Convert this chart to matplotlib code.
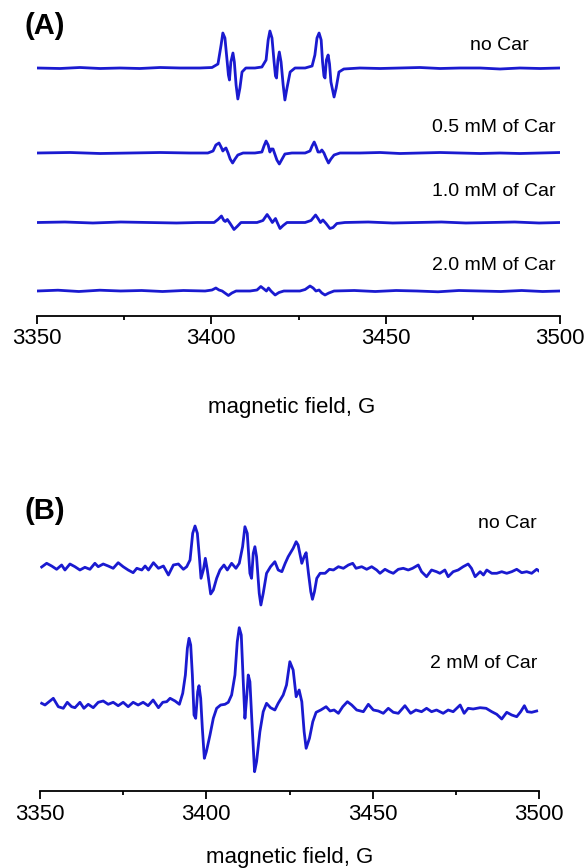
import matplotlib
matplotlib.use("Agg")
import matplotlib.pyplot as plt
from matplotlib.ticker import MultipleLocator

plt.rcParams['font.family'] = ['Liberation Sans', 'DejaVu Sans']

# ---------------- data (field in G, signal in arbitrary units) ----------------
xtick_labels = ["3350", "3400", "3450", "3500"]

labels_A = ["no Car", "0.5 mM of Car", "1.0 mM of Car", "2.0 mM of Car"]
labels_B = ["no Car", "2 mM of Car"]

A1_field = [3350.0, 3356.6, 3362.3, 3368.1, 3373.8, 3379.5, 3385.3, 3391.0, 3396.7, 3400.2,
            3401.9, 3402.8, 3403.3, 3403.9, 3404.5, 3404.9, 3405.2, 3405.6, 3406.2, 3406.6,
            3407.1, 3407.6, 3408.2, 3408.8, 3409.9, 3412.5, 3414.5, 3415.7, 3416.3, 3416.8,
            3417.4, 3418.0, 3418.4, 3418.7, 3419.1, 3419.5, 3420.0, 3420.6, 3421.1, 3421.7,
            3422.6, 3424.0, 3426.9, 3428.9, 3429.7, 3430.3, 3430.9, 3431.5, 3431.9, 3432.3,
            3432.6, 3433.0, 3433.5, 3433.9, 3434.3, 3435.2, 3435.8, 3436.6, 3438.0, 3442.6,
            3448.4, 3454.1, 3459.8, 3465.6, 3471.3, 3477.1, 3482.8, 3488.5, 3494.3, 3500.0]
A1_signal = [0, -0.5, 0.5, -0.5, 0, -0.5, 0.5, 0, 0, 0.5,
             4, 23, 35, 30, 8, -7, -12, 6, 15, 6,
             -17, -31, -20, -4, 0, 0, 1, 8, 28, 37,
             30, 6, -8, -10, 8, 16, 6, -17, -32, -20,
             -4, 0, 0, 2, 13, 30, 35, 28, 6, -8,
             -10, 8, 13, 4, -14, -29, -20, -4, -1, 0,
             -0.5, 0, 0.5, -0.5, 0, 0, -1, 0, -0.5, 0]

A2_field = [3350.0, 3359.5, 3368.1, 3376.7, 3385.3, 3393.9, 3399.0, 3400.5, 3401.3, 3402.2,
            3402.8, 3403.3, 3403.8, 3404.2, 3404.8, 3405.4, 3406.1, 3406.8, 3407.6, 3409.1,
            3412.5, 3414.5, 3415.1, 3415.7, 3416.3, 3416.8, 3417.2, 3417.7, 3418.3, 3418.8,
            3419.5, 3420.3, 3421.1, 3423.1, 3426.9, 3428.3, 3428.9, 3429.5, 3430.0, 3430.6,
            3431.2, 3431.7, 3432.3, 3432.9, 3433.6, 3434.3, 3435.2, 3436.9, 3442.6, 3448.4,
            3454.1, 3459.8, 3465.6, 3471.3, 3477.1, 3482.8, 3488.5, 3494.3, 3500.0]
A2_signal = [0, 0.5, -0.5, 0, 0.5, 0, 0, 2, 8, 10,
             6, 2, 4, 5, 0, -6, -10, -6, -2, 0,
             0, 1, 7, 12, 8, 1, 4, 4, -2, -7,
             -11, -6, -1, 0, 0, 2, 7, 11, 7, 1,
             1, 3, 0, -5, -10, -6, -2, 0, 0, 0.5,
             -0.5, 0, 0.5, 0, -0.5, 0, -0.5, 0, 0.5]

A3_field = [3350.0, 3358.0, 3366.0, 3374.0, 3382.0, 3390.0, 3396.0, 3400.8, 3401.9, 3402.9,
            3403.6, 3404.0, 3404.6, 3405.4, 3406.5, 3407.4, 3408.5, 3413.1, 3414.8, 3416.0,
            3416.8, 3417.5, 3418.4, 3418.9, 3419.7, 3420.6, 3421.7, 3426.9, 3428.6, 3429.9,
            3430.6, 3431.3, 3432.0, 3432.9, 3434.0, 3434.9, 3436.0, 3438.3, 3445.0, 3452.0,
            3459.0, 3466.0, 3473.0, 3480.0, 3487.0, 3494.0, 3500.0]
A3_signal = [0, 0.5, -0.5, 0.5, 0, -0.5, 0, 0, 3, 6.5,
             2, 1, 3, -1, -7, -4, 0, 0, 2, 8,
             4, 0, 4, 0, -6, -3, 0, 0, 2, 7.5,
             4, 0, 2.5, -1, -6, -5, -1, 0, 0.5, -0.5,
             0, 0.5, -0.5, 0, 0.5, -0.5, 0]

A4_field = [3350.0, 3356.0, 3362.0, 3368.0, 3374.0, 3380.0, 3386.0, 3392.0, 3398.2, 3400.2,
            3401.3, 3402.2, 3403.1, 3403.9, 3404.9, 3405.9, 3407.1, 3411.1, 3413.1, 3414.2,
            3415.1, 3415.8, 3416.4, 3417.1, 3418.3, 3419.4, 3420.8, 3425.4, 3426.9, 3428.3,
            3429.2, 3430.0, 3430.9, 3431.7, 3432.6, 3433.7, 3435.2, 3441.0, 3447.0, 3453.0,
            3459.0, 3465.0, 3471.0, 3477.0, 3483.0, 3489.0, 3495.0, 3500.0]
A4_signal = [0, 0.8, -0.5, 0.8, 0, 0.5, -0.5, 0.5, 0, 1,
             3, 1, 0, -2, -4.5, -2, 0, 0, 1, 4.5,
             2, 0, 3, 0, -4, -1.5, 0, 0, 1.5, 5,
             3, 0, 1, -2, -4, -2, 0, 0.5, -0.5, 0.5,
             0, -0.8, 0.5, 0, -0.5, 0.5, -0.5, 0]

B1_field = [3350.5, 3352.0, 3353.5, 3355.0, 3356.5, 3357.5, 3359.0, 3360.5, 3362.0, 3363.5,
            3365.0, 3366.5, 3367.5, 3369.0, 3370.5, 3372.0, 3373.5, 3375.0, 3376.5, 3378.0,
            3379.1, 3380.6, 3381.6, 3382.6, 3384.1, 3385.6, 3387.1, 3388.6, 3390.1, 3391.6,
            3393.1, 3394.1, 3395.1, 3395.9, 3396.6, 3397.3, 3397.9, 3398.4, 3399.1, 3399.7,
            3400.3, 3401.3, 3402.1, 3403.1, 3404.1, 3405.3, 3406.3, 3407.6, 3408.9, 3409.9,
            3410.9, 3411.6, 3412.3, 3413.1, 3413.6, 3414.1, 3414.6, 3415.1, 3415.9, 3416.4,
            3417.1, 3418.1, 3419.3, 3420.6, 3421.6, 3422.7, 3423.7, 3424.6, 3426.1, 3427.0,
            3427.6, 3428.7, 3429.4, 3430.0, 3430.7, 3431.4, 3431.9, 3432.5, 3433.2, 3434.2,
            3435.7, 3437.0, 3438.2, 3439.7, 3441.2, 3442.7, 3444.0, 3445.0, 3446.7, 3448.2,
            3449.7, 3451.2, 3452.2, 3453.7, 3455.0, 3456.2, 3457.7, 3459.2, 3460.7, 3462.0,
            3463.7, 3464.7, 3466.2, 3467.7, 3469.2, 3470.2, 3471.7, 3472.7, 3474.2, 3475.7,
            3477.2, 3478.7, 3479.7, 3480.8, 3482.3, 3483.3, 3484.3, 3485.8, 3487.3, 3488.8,
            3490.3, 3491.8, 3493.3, 3494.8, 3496.3, 3497.8, 3499.3, 3500.0]
B1_signal = [1, 4.7, 2, -1.3, 3, -2, 4, 1.3, -2, 0.7,
             -1.3, 4.7, 1.3, 4, 2, -0.3, 5.3, 1.3, -2, -4.7,
             -0.3, -2, 2, -2, 5.3, -0.3, 2, -7, 3, 4,
             -1.3, 1.3, 8, 34.7, 42, 34.7, 11.3, -10.3, -2, 9.7,
             -2, -26, -22, -10.3, -2, 3, -2, 4.7, -0.3, 4.7,
             21.3, 41.3, 34.7, -5.3, -10.3, 14.7, 21.3, 11.3, -25.3, -37,
             -25.3, -5.3, 1.3, 6.3, -2, -3.7, 4.7, 11.3, 19.7, 26.3,
             23, 4.7, 11.3, 15.3, -5.3, -23.7, -31.3, -23.7, -10.3, -5.3,
             -5.3, -1.3, -2, 1.3, -0.3, 3, 4.7, -0.3, 1.3, -1.3,
             1.3, -2, -5.3, -1.3, -3.7, -5.3, -1.3, -0.3, -2, -0.3,
             3, -3.7, -8.7, -2, -3.7, -5.3, -2, -8.7, -3.7, -2,
             1.3, 4, -0.3, -8.7, -3.7, -7, -2, -5.3, -5.3, -3.7,
             -5.3, -3.7, -1.3, -4.7, -3.7, -5.3, -1.3, -3]

B2_field = [3350.5, 3351.5, 3352.5, 3354.0, 3355.5, 3357.0, 3358.2, 3359.5, 3360.5, 3362.0,
            3363.2, 3364.5, 3366.0, 3367.5, 3369.0, 3370.5, 3372.0, 3373.5, 3375.0, 3376.5,
            3378.0, 3379.5, 3381.0, 3382.5, 3384.0, 3385.6, 3386.9, 3388.1, 3389.1, 3390.6,
            3391.9, 3392.9, 3393.7, 3394.3, 3394.8, 3395.3, 3395.8, 3396.3, 3396.8, 3397.4,
            3397.8, 3398.3, 3398.8, 3399.4, 3400.0, 3401.1, 3402.1, 3403.1, 3404.3, 3405.6,
            3406.6, 3407.6, 3408.6, 3409.3, 3409.9, 3410.5, 3411.1, 3411.6, 3412.1, 3412.6,
            3413.1, 3413.7, 3414.5, 3415.1, 3416.1, 3417.1, 3418.1, 3419.3, 3420.6, 3421.6,
            3423.1, 3424.1, 3425.1, 3426.1, 3427.0, 3427.9, 3428.7, 3429.4, 3430.0, 3431.0,
            3432.0, 3433.0, 3434.4, 3436.0, 3437.2, 3438.4, 3439.7, 3441.0, 3442.4, 3443.7,
            3445.2, 3447.2, 3448.7, 3450.2, 3451.7, 3453.2, 3454.7, 3456.2, 3457.7, 3459.7,
            3461.4, 3463.0, 3464.7, 3466.2, 3467.7, 3469.2, 3471.2, 3472.7, 3474.2, 3476.3,
            3477.5, 3478.7, 3480.2, 3482.3, 3484.1, 3485.8, 3487.3, 3488.8, 3490.3, 3491.8,
            3493.3, 3494.5, 3495.6, 3496.5, 3497.8, 3499.3]
B2_signal = [0.7, -1, 1.7, 5.7, -2.7, -4.3, 1.7, -2.7, -3.7, 1.7,
             -4.3, -0.3, -3.7, 1.7, 3, -0.3, 1.7, -1.7, 1.7, -2.7,
             1.7, -1, 1.7, -1.7, 4, -3.7, 1.7, 2.3, 5.7, 3,
             -0.3, 10.7, 29, 55.7, 65.7, 59, 29, -11, -14.3, 12.3,
             18.3, 5.7, -24.3, -54.3, -47.7, -31, -14.3, -4.3, -1, -0.3,
             1.7, 9, 29, 62.3, 76.3, 69, 22.3, -14.3, 5.7, 29,
             22.3, -17.7, -67.7, -57.7, -27.7, -7.7, 0.7, -3.7, -6, 0.7,
             9, 19, 42.3, 34, 7.3, 14, 2.3, -27.7, -44.3, -34.3,
             -17.7, -8.3, -6, -2.7, -7, -6, -9.3, -2.7, 2.3, -1,
             -6, -7.7, -0.3, -6, -7, -9.3, -4.3, -8.3, -9.3, -1.7,
             -9.3, -6, -7.7, -4.3, -7.7, -6, -9.3, -6, -7.7, -1,
             -9.3, -4.3, -5, -3.7, -4.3, -7.7, -10.3, -15, -8.3, -11,
             -12.7, -7.7, -1.7, -7.7, -8.3, -7]

# ---------------- layout (pixels of a 585 x 868 canvas) ----------------
W, H = 585, 868
fig = plt.figure(figsize=(W / 100, H / 100), dpi=100)
color = '#1a1ad0'
lw = 2.0


def px_axes(x0, x1, ybot, ytop):
    return fig.add_axes([x0 / W, 1 - ybot / H, (x1 - x0) / W, (ybot - ytop) / H])


def style_axis(ax, height_px):
    ax.set_xlim(3350, 3500)
    ax.set_ylim(0, height_px)
    for s in ('left', 'right', 'top'):
        ax.spines[s].set_visible(False)
    ax.spines['bottom'].set_linewidth(1.3)
    ax.set_yticks([])
    ax.xaxis.set_major_locator(MultipleLocator(50))
    ax.xaxis.set_minor_locator(MultipleLocator(25))
    ax.set_xticks([3350, 3400, 3450, 3500])
    ax.set_xticklabels(xtick_labels)
    ax.tick_params(axis='x', which='major', direction='out', length=6, width=1.3,
                   labelsize=16, pad=3)
    ax.tick_params(axis='x', which='minor', direction='out', length=3, width=1.3)
    ax.patch.set_alpha(0)


# Panel A
axA = px_axes(37, 560, 316, 10)
style_axis(axA, 306)
offsets_A = [248, 163, 93.5, 25]
for fx, sig, off in zip([A1_field, A2_field, A3_field, A4_field],
                        [A1_signal, A2_signal, A3_signal, A4_signal], offsets_A):
    axA.plot(fx, [s + off for s in sig], color=color, lw=lw, solid_joinstyle='round')

# Panel B
axB = px_axes(40, 539, 791, 480)
style_axis(axB, 311)
offsets_B = [223, 87]
for fx, sig, off in zip([B1_field, B2_field], [B1_signal, B2_signal], offsets_B):
    axB.plot(fx, [s + off for s in sig], color=color, lw=lw, solid_joinstyle='round')


def ftext(x, y, s, **kw):
    fig.text(x / W, 1 - y / H, s, **kw)


ftext(24, 26, "(A)", fontsize=21, fontweight='bold', ha='left', va='center')
ftext(24, 511, "(B)", fontsize=21, fontweight='bold', ha='left', va='center')

for (lab, x, y) in zip(labels_A, [529, 556, 556, 556], [45, 127, 192, 265]):
    ftext(x, y, lab, fontsize=14, ha='right', va='center')
for (lab, x, y) in zip(labels_B, [537, 537], [524, 664]):
    ftext(x, y, lab, fontsize=14, ha='right', va='center')

ftext(292, 407, "magnetic field, G", fontsize=16, ha='center', va='center')
ftext(290, 858, "magnetic field, G", fontsize=16, ha='center', va='center')

fig.savefig("out.png", dpi=100)
